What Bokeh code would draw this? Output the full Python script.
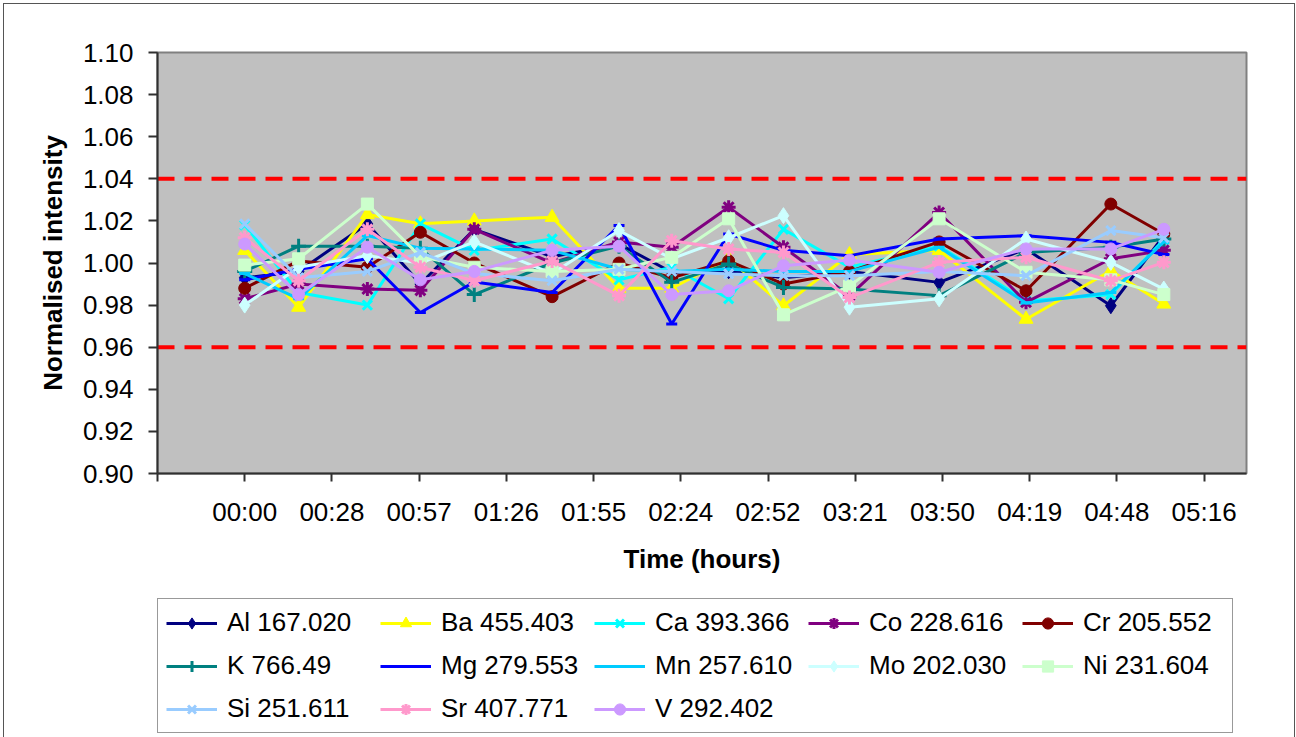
from bokeh.plotting import figure
from bokeh.layouts import column
from bokeh.models import (Range1d, FixedTicker, Span, Legend, LegendItem,
                          CustomJSTickFormatter, NumeralTickFormatter)
from bokeh.embed import file_html
from bokeh.resources import INLINE

# ---- data -------------------------------------------------------------
time_min = [0, 17.8, 40.5, 58.0, 75.8, 101.5, 123.6, 141.0, 159.8, 177.9,
            199.7, 229.3, 258.0, 286.0, 303.5]

al = [0.993, 0.996, 1.0186, 0.990, 1.016, 1.003, 1.009, 0.9956, 0.9963, 0.993, 0.996, 0.9908, 1.0067, 0.9797, 1.013]
ba = [1.006, 0.979, 1.023, 1.0186, 1.020, 1.0217, 0.988, 0.988, 1.002, 0.9797, 1.004, 1.006, 0.9733, 0.9963, 0.9805]
ca = [1.018, 0.986, 0.980, 1.0186, 1.006, 1.0114, 0.992, 0.998, 0.983, 1.016, 0.998, 1.008, 0.982, 0.985, 1.011]
co = [0.983, 0.990, 0.9876, 0.987, 1.016, 1.000, 1.010, 1.0075, 1.0265, 1.0075, 0.9845, 1.024, 0.9813, 1.002, 1.006]
cr = [0.988, 1.001, 0.998, 1.0146, 1.000, 0.984, 1.000, 0.993, 1.001, 0.990, 0.996, 1.010, 0.9868, 1.028, 1.0138]
k = [0.996, 1.008, 1.008, 1.007, 0.985, 1.000, 1.008, 0.9908, 0.9995, 0.9884, 0.9876, 0.9845, 1.005, 1.0075, 1.0114]
mg = [0.992, 0.997, 1.002, 0.9765, 0.991, 0.986, 1.0178, 0.971, 1.0138, 1.006, 1.0035, 1.0114, 1.013, 1.0098, 1.004]
mn = [0.995, 0.983, 1.013, 1.007, 1.0067, 1.006, 0.997, 0.996, 0.997, 0.996, 0.996, 1.0075, 0.981, 0.986, 1.010]
mo = [0.980, 0.998, 1.0035, 1.000, 1.010, 0.995, 1.0154, 1.002, 1.012, 1.0225, 0.979, 0.983, 1.0114, 1.0003, 0.9876]
ni = [0.999, 1.002, 1.028, 1.003, 0.998, 0.996, 0.997, 1.0027, 1.021, 0.9754, 0.989, 1.021, 0.9956, 0.992, 0.985]
si = [1.0186, 0.993, 0.996, 1.005, 0.995, 0.9916, 0.997, 0.996, 0.9948, 0.994, 0.994, 0.996, 0.994, 1.0154, 1.012]
sr = [1.012, 0.9916, 1.016, 0.998, 0.9916, 1.001, 0.9845, 1.0106, 1.0067, 1.005, 0.9836, 1.0003, 1.0027, 0.9916, 1.0003]
v = [1.009, 0.985, 1.0075, 0.992, 0.996, 1.006, 1.008, 0.985, 0.9868, 0.9987, 1.0014, 0.9956, 1.0067, 1.0067, 1.016]

series_names = ["Al 167.020", "Ba 455.403", "Ca 393.366", "Co 228.616", "Cr 205.552",
                "K 766.49", "Mg 279.553", "Mn 257.610", "Mo 202.030", "Ni 231.604",
                "Si 251.611", "Sr 407.771", "V 292.402"]
series_values = [al, ba, ca, co, cr, k, mg, mn, mo, ni, si, sr, v]

limits = [0.96, 1.04]
y_ticks = [0.90, 0.92, 0.94, 0.96, 0.98, 1.00, 1.02, 1.04, 1.06, 1.08, 1.10]

# ---- styles -----------------------------------------------------------
colors = ["#000080", "#FFFF00", "#00FFFF", "#800080", "#800000",
          "#008080", "#0000FF", "#00CCFF", "#CCFFFF", "#CCFFCC",
          "#99CCFF", "#FF99CC", "#CC99FF"]
markers = ["diamond", "triangle", "x", "asterisk", "circle",
           "cross", "dash", "dash", "diamond", "square",
           "x", "asterisk", "circle"]
msizes = {"diamond": 16, "triangle": 14, "x": 13, "asterisk": 14, "circle": 12,
          "cross": 15, "dash": 11, "square": 12}

FONT = "Liberation Sans"
W = 1290
H_MAIN = 590
H_LEG = 143


def add_series(fig, xs, ys, col, mk):
    r1 = fig.line(xs, ys, line_color=col, line_width=3)
    if mk in ("x", "asterisk", "cross", "dash"):
        r2 = fig.scatter(xs, ys, marker=mk, size=msizes[mk],
                         line_color=col, line_width=3)
    else:
        r2 = fig.scatter(xs, ys, marker=mk, size=msizes[mk],
                         line_color=col, fill_color=col, line_width=1)
    return r1, r2


p = figure(width=W, height=H_MAIN, output_backend="svg", toolbar_location=None,
           x_range=Range1d(-28.8, 330.8), y_range=Range1d(0.90, 1.10),
           min_border_left=153, min_border_top=48, min_border_right=48,
           min_border_bottom=H_MAIN - 48 - 421)
p.background_fill_color = "#C0C0C0"
p.border_fill_color = "white"
p.outline_line_color = "#808080"
p.outline_line_width = 2
p.xgrid.visible = False
p.ygrid.visible = False

p.xaxis.ticker = FixedTicker(ticks=[-28.8 + 28.8 * i for i in range(13)])
p.xaxis.formatter = CustomJSTickFormatter(code="""
    if (tick < 0) return "";
    const m = Math.floor(tick + 1e-6);
    const h = Math.floor(m / 60), mm = m % 60;
    return String(h).padStart(2, "0") + ":" + String(mm).padStart(2, "0");
""")
p.yaxis.ticker = FixedTicker(ticks=y_ticks)
p.yaxis.formatter = NumeralTickFormatter(format="0.00")

for ax in (p.xaxis[0], p.yaxis[0]):
    ax.axis_line_color = "#303030"
    ax.axis_line_width = 2
    ax.major_tick_line_color = "#303030"
    ax.major_tick_line_width = 2
    ax.major_tick_in = 0
    ax.minor_tick_line_color = None
    ax.major_label_text_font = FONT
    ax.major_label_text_font_size = "26px"
    ax.major_label_text_color = "black"
    ax.axis_label_text_font = FONT
    ax.axis_label_text_font_size = "26px"
    ax.axis_label_text_font_style = "bold"
    ax.axis_label_text_color = "black"

p.xaxis.major_tick_out = 8
p.xaxis.major_label_standoff = 15
p.xaxis.axis_label = "Time (hours)"
p.xaxis.axis_label_standoff = 14
p.yaxis.major_tick_out = 9
p.yaxis.major_label_standoff = 15
p.yaxis.axis_label = "Normalised intensity"
p.yaxis.axis_label_standoff = 12

for lim in limits:
    p.add_layout(Span(location=lim, dimension="width", line_color="#FF0000",
                      line_width=4, line_dash="17 10", level="underlay"))

for vals, col, mk in zip(series_values, colors, markers):
    add_series(p, time_min, vals, col, mk)

# ---- legend figure (series drawn out of view; only the legend shows) ---
pl = figure(width=W, height=H_LEG, output_backend="svg", toolbar_location=None,
            x_range=Range1d(1000, 1001), y_range=Range1d(1000, 1001),
            x_axis_location=None, y_axis_location=None,
            min_border_left=153, min_border_right=0, min_border_top=0,
            min_border_bottom=4)
pl.outline_line_color = None
pl.background_fill_color = "white"
pl.border_fill_color = "white"
pl.xgrid.visible = False
pl.ygrid.visible = False

items = []
for name, vals, col, mk in zip(series_names, series_values, colors, markers):
    r1, r2 = add_series(pl, time_min, vals, col, mk)
    items.append(LegendItem(label=name, renderers=[r1, r2]))

legend = Legend(items=items, orientation="horizontal", ncols=5,
                location="bottom_left", margin=0, padding=8, spacing=12,
                glyph_width=51, glyph_height=28, label_standoff=10,
                label_width=141, label_height=28,
                label_text_font=FONT, label_text_font_size="26px",
                label_text_color="black",
                border_line_color="#333333", border_line_width=1.5,
                background_fill_color="white", background_fill_alpha=1.0)
pl.add_layout(legend, "center")

layout = column(p, pl, spacing=0)
layout.styles = {"margin-left": "3px", "margin-top": "3px",
                 "border-left": "1px solid #555555", "border-top": "1px solid #555555",
                 "border-right": "1px solid #555555"}

open("out.html", "w").write(file_html(layout, INLINE))
